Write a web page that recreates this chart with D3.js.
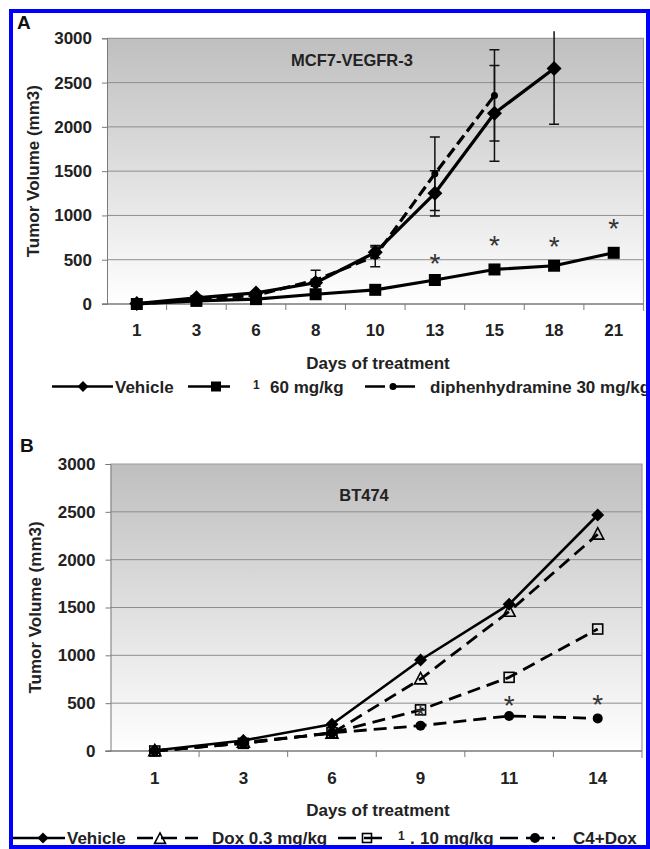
<!DOCTYPE html>
<html><head><meta charset="utf-8">
<script src="https://cdn.jsdelivr.net/npm/d3@7"></script>
<style>html,body{margin:0;padding:0;background:#fff;overflow:hidden}svg{display:block;font-family:"Liberation Sans",Arial,sans-serif;}</style>
</head><body><svg id="c" width="650" height="849"></svg>
<script>
// ---------- data ----------
const yTicks = [0, 500, 1000, 1500, 2000, 2500, 3000];

const daysA = ["1", "3", "6", "8", "10", "13", "15", "18", "21"];
const vehicleA = [5, 70, 125, 240, 583, 1250, 2153, 2660, null];
const vehicleAErr = [0, 15, 20, 40, 60, 255, 540, 630, null];
const compoundA = [0, 35, 55, 110, 160, 271, 390, 432, 578];
const compoundAErr = [0, 8, 10, 15, 20, 25, 30, 30, 25];
const diphenA = [0, 50, 100, 270, 540, 1470, 2355, null, null];
const diphenAErr = [0, 10, 20, 110, 120, 415, 515, null, null];
const starDaysA = ["13", "15", "18", "21"];
const starValsA = [515, 722, 715, 918];

const daysB = ["1", "3", "6", "9", "11", "14"];
const vehicleB = [5, 110, 279, 951, 1533, 2467];
const doxB = [0, 90, 185, 752, 1458, 2265];
const compoundB = [0, 80, 190, 430, 770, 1275];
const c4doxB = [0, 80, 190, 265, 366, 341];
const starDaysB = ["9", "11", "14"];
const starValsB = [430, 533, 540];

// ---------- drawing ----------
const svg = d3.select("#c");
const FONT = "bold 17px 'Liberation Sans', Arial, sans-serif";
const defs = svg.append("defs");
const grad = defs.append("linearGradient").attr("id", "bg").attr("x1", 0).attr("y1", 0).attr("x2", 0).attr("y2", 1);
grad.append("stop").attr("offset", "0%").attr("stop-color", "#bfbfbf");
grad.append("stop").attr("offset", "100%").attr("stop-color", "#ffffff");

function marker(g, type, s, cx, cy) {
  if (type === "diamond") {
    g.append("path").attr("d", `M${cx},${cy - s}L${cx + s},${cy}L${cx},${cy + s}L${cx - s},${cy}Z`).attr("fill", "#000");
  } else if (type === "square") {
    g.append("rect").attr("x", cx - s).attr("y", cy - s).attr("width", 2 * s).attr("height", 2 * s).attr("fill", "#000");
  } else if (type === "osquare") {
    g.append("rect").attr("x", cx - s).attr("y", cy - s).attr("width", 2 * s).attr("height", 2 * s)
      .attr("fill", "none").attr("stroke", "#000").attr("stroke-width", 1.6);
  } else if (type === "otriangle") {
    g.append("path").attr("d", `M${cx},${cy - s * 1.1}L${cx + s},${cy + s * 0.8}L${cx - s},${cy + s * 0.8}Z`)
      .attr("fill", "none").attr("stroke", "#000").attr("stroke-width", 1.6);
  } else if (type === "circle") {
    g.append("circle").attr("cx", cx).attr("cy", cy).attr("r", s).attr("fill", "#000");
  }
}

function panel(cfg) {
  const g = svg.append("g");
  const x = d3.scaleBand().domain(cfg.days).range([cfg.x0, cfg.x1]).padding(0);
  const y = d3.scaleLinear().domain([0, 3000]).range([cfg.y0, cfg.y1]);
  const cx = d => x(d) + x.bandwidth() / 2;

  // plot area
  g.append("rect").attr("x", cfg.x0).attr("y", cfg.y1).attr("width", cfg.x1 - cfg.x0).attr("height", cfg.y0 - cfg.y1)
    .attr("fill", "url(#bg)");
  g.selectAll(".grid").data(yTicks.filter(v => v > 0 && v < 3000)).enter().append("line")
    .attr("x1", cfg.x0).attr("x2", cfg.x1).attr("y1", d => y(d)).attr("y2", d => y(d))
    .attr("stroke", "#8e8e8e").attr("stroke-width", 1);
  g.append("path").attr("d", `M${cfg.x0},${cfg.y1}H${cfg.x1}V${cfg.y0 + 7}`).attr("fill", "none")
    .attr("stroke", "#999").attr("stroke-width", 1.2);

  // y axis
  const ya = g.append("g").attr("transform", `translate(${cfg.x0},0)`)
    .call(d3.axisLeft(y).tickValues(yTicks).tickSize(5).tickPadding(10).tickFormat(d => d));
  ya.select(".domain").attr("stroke", "#7a7a7a");
  ya.selectAll(".tick line").attr("stroke", "#7a7a7a");
  ya.selectAll("text").style("font", FONT).attr("fill", "#222");

  // x axis
  const xa = g.append("g").attr("transform", `translate(0,${cfg.y0})`)
    .call(d3.axisBottom(x).tickSize(0).tickPadding(cfg.xpad));
  xa.select(".domain").remove();
  xa.selectAll("text").style("font", FONT).attr("fill", "#222");
  g.append("line").attr("x1", cfg.x0 - 5).attr("x2", cfg.x1).attr("y1", cfg.y0).attr("y2", cfg.y0)
    .attr("stroke", "#7a7a7a").attr("stroke-width", 1.3);
  g.selectAll(".bt").data(cfg.days.slice(1)).enter().append("line")
    .attr("x1", d => x(d)).attr("x2", d => x(d)).attr("y1", cfg.y0).attr("y2", cfg.y0 + 6)
    .attr("stroke", "#7a7a7a");

  // axis titles
  g.append("text").attr("x", cfg.xTitleX).attr("y", cfg.y0 + cfg.xTitleDy).attr("text-anchor", "middle")
    .style("font", FONT).attr("fill", "#222").text("Days of treatment");
  g.append("text").attr("transform", `translate(${cfg.yTitleX},${(cfg.y0 + cfg.y1) / 2}) rotate(-90)`)
    .attr("text-anchor", "middle").attr("dy", "0.36em").style("font", FONT).attr("fill", "#222")
    .text("Tumor Volume (mm3)");
  g.append("text").attr("x", cfg.titleX).attr("y", cfg.titleY).attr("text-anchor", "middle")
    .style("font", "bold 16.5px 'Liberation Sans', Arial, sans-serif").attr("fill", "#222").text(cfg.title);
  g.append("text").attr("x", cfg.letterX).attr("y", cfg.letterY)
    .style("font", "bold 19px 'Liberation Sans', Arial, sans-serif").attr("fill", "#111").text(cfg.letter);

  // clip for error bars
  const cid = "clip" + cfg.letter;
  defs.append("clipPath").attr("id", cid).append("rect")
    .attr("x", cfg.x0).attr("y", cfg.y1 - 7).attr("width", cfg.x1 - cfg.x0).attr("height", cfg.y0 - cfg.y1 + 20);

  const line = d3.line().defined(d => d.v != null).x(d => cx(d.day)).y(d => y(d.v));
  cfg.series.forEach(s => {
    const pts = cfg.days.map((d, i) => ({ day: d, v: s.values[i], e: s.err ? s.err[i] : null }));
    g.append("path").datum(pts).attr("d", line).attr("fill", "none").attr("stroke", "#000")
      .attr("stroke-width", s.width).attr("stroke-dasharray", s.dash || null).attr("stroke-linejoin", "round");
    const eg = g.append("g").attr("clip-path", `url(#${cid})`);
    pts.filter(p => p.v != null && p.e).forEach(p => {
      const xx = cx(p.day), hi = y(p.v + p.e), lo = y(Math.max(0, p.v - p.e));
      eg.append("path").attr("d", `M${xx},${hi}V${lo}M${xx - 5},${hi}H${xx + 5}M${xx - 5},${lo}H${xx + 5}`)
        .attr("stroke", "#111").attr("stroke-width", 1.5).attr("fill", "none");
    });
    s.pts = pts;
  });
  cfg.series.forEach(s => {
    s.pts.filter(p => p.v != null).forEach(p => marker(g, s.marker, s.size, cx(p.day), y(p.v)));
  });

  // significance stars
  cfg.starDays.forEach((d, i) => {
    g.append("text").attr("x", cx(d)).attr("y", y(cfg.starVals[i]) + 15).attr("text-anchor", "middle")
      .style("font", "28px 'Liberation Sans', Arial, sans-serif").attr("fill", "#333").text("*");
  });
}

panel({
  letter: "A", letterX: 17, letterY: 29,
  days: daysA, x0: 107, x1: 643.5, y0: 304, y1: 38.3, xpad: 20,
  xTitleX: 378, xTitleDy: 65, yTitleX: 33,
  title: "MCF7-VEGFR-3", titleX: 352, titleY: 66,
  starDays: starDaysA, starVals: starValsA,
  series: [
    { values: compoundA, err: compoundAErr, marker: "square", size: 6, width: 3.2 },
    { values: diphenA, err: diphenAErr, marker: "circle", size: 3.5, width: 3.2, dash: "11,5" },
    { values: vehicleA, err: vehicleAErr, marker: "diamond", size: 7.5, width: 3.2 }
  ]
});

panel({
  letter: "B", letterX: 20, letterY: 452,
  days: daysB, x0: 110.5, x1: 642, y0: 751, y1: 464, xpad: 21,
  xTitleX: 378, xTitleDy: 65, yTitleX: 35,
  title: "BT474", titleX: 364, titleY: 501,
  starDays: starDaysB, starVals: starValsB,
  series: [
    { values: c4doxB, marker: "circle", size: 5, width: 2.8, dash: "13,7" },
    { values: compoundB, marker: "osquare", size: 5, width: 2.8, dash: "13,7" },
    { values: doxB, marker: "otriangle", size: 6, width: 2.8, dash: "13,7" },
    { values: vehicleB, marker: "diamond", size: 6.5, width: 2.6 }
  ]
});

// ---------- legends ----------
function legendLine(x1, x2, yy, dash) {
  svg.append("line").attr("x1", x1).attr("x2", x2).attr("y1", yy).attr("y2", yy)
    .attr("stroke", "#000").attr("stroke-width", 2.6).attr("stroke-dasharray", dash || null);
}
function legendText(xx, yy, t, size) {
  svg.append("text").attr("x", xx).attr("y", yy).style("font", `bold ${size || 17}px 'Liberation Sans', Arial, sans-serif`)
    .attr("fill", "#222").text(t);
}
const LA = 386.5;
legendLine(52, 113, LA); marker(svg, "diamond", 5.5, 83, LA); legendText(115, LA + 6, "Vehicle");
legendLine(188, 230, LA); marker(svg, "square", 5, 216, LA); legendText(253, LA + 2, "1", 12); legendText(270, LA + 6, "60 mg/kg");
legendLine(365, 416, LA, "20,10"); marker(svg, "circle", 3.5, 393, LA); legendText(430, LA + 6, "diphenhydramine 30 mg/kg");

const LB = 838;
legendLine(13, 65, LB); marker(svg, "diamond", 5.5, 43, LB); legendText(67, LB + 6, "Vehicle");
legendLine(137, 198, LB, "16,8"); marker(svg, "otriangle", 5.5, 160, LB + 1); legendText(212, LB + 6, "Dox 0.3 mg/kg");
legendLine(338, 387, LB, "18,8"); marker(svg, "osquare", 4.5, 367, LB); legendText(398, LB + 2, "1", 12); legendText(410, LB + 6, "."); legendText(420, LB + 6, "10 mg/kg");
legendLine(500, 555, LB, "18,8"); marker(svg, "circle", 5, 535, LB); legendText(573, LB + 6, "C4+Dox");

// ---------- blue frame ----------
svg.append("rect").attr("x", 11).attr("y", 11).attr("width", 637).attr("height", 836)
  .attr("fill", "none").attr("stroke", "#0000ff").attr("stroke-width", 4);
</script></body></html>
